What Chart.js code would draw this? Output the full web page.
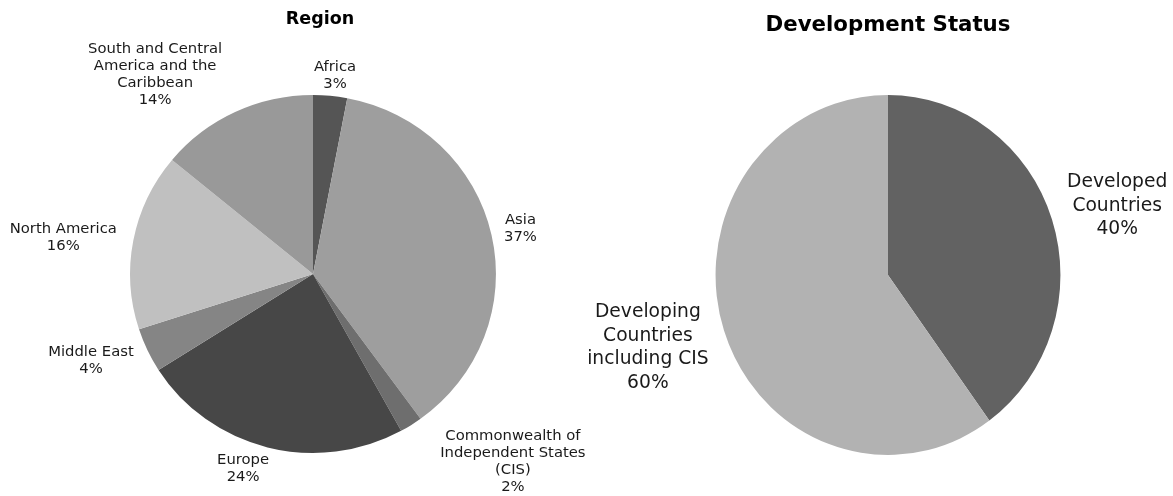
<!DOCTYPE html>
<html>
<head>
<meta charset="utf-8">
<script src="https://cdn.jsdelivr.net/npm/chart.js@4.4.1/dist/chart.umd.min.js"></script>
<style>
  html, body { margin: 0; padding: 0; background: #fff; }
  #wrap { position: relative; width: 1173px; height: 496px; }
  .box { position: absolute; top: 0; height: 496px; }
  #left { left: 0; width: 586px; }
  #right { left: 586px; width: 587px; }
</style>
</head>
<body>
<div id="wrap">
  <div class="box" id="left"><canvas id="region-chart"></canvas></div>
  <div class="box" id="right"><canvas id="status-chart"></canvas></div>
</div>
<script>
// --- data ---
const regionLabels = [
  ['Africa'],
  ['Asia'],
  ['Commonwealth of', 'Independent States', '(CIS)'],
  ['Europe'],
  ['Middle East'],
  ['North America'],
  ['South and Central', 'America and the', 'Caribbean'],
];
const regionShares = [3, 37, 2, 24, 4, 16, 14];
const regionColors = ['#555555', '#9e9e9e', '#6e6e6e', '#474747', '#858585', '#c0c0c0', '#999999'];

const statusLabels = [
  ['Developed', 'Countries'],
  ['Developing', 'Countries', 'including CIS'],
];
const statusShares = [40, 60];
const statusColors = ['#626262', '#b2b2b2'];

// label placement: extra distance past the rim, and angle nudge (deg)
const regionLabelPad = [21, 29, 92, 27, 55, 68, 73];
const regionLabelTweak = [0.8, 0, -13.8, 5, 3.4, -2.4, -12.6];
const statusLabelPad = [69, 81];
const statusLabelTweak = [1.9, 1.8];

const FONT = '"DejaVu Sans", Verdana, sans-serif';

// pie drawn slightly squashed horizontally, labels + title as real text
function piePlugin(cfg) {
  return {
    id: 'pieDecor',
    beforeDatasetsDraw(chart) {
      const a = chart.chartArea;
      const cx = (a.left + a.right) / 2, cy = (a.top + a.bottom) / 2;
      const ctx = chart.ctx;
      ctx.save();
      ctx.translate(cx, cy);
      ctx.scale(cfg.sx, 1);
      ctx.translate(-cx, -cy);
    },
    afterDatasetsDraw(chart) {
      chart.ctx.restore();
    },
    afterDraw(chart) {
      const ctx = chart.ctx;
      const meta = chart.getDatasetMeta(0);
      const data = chart.data.datasets[0].data;
      const total = data.reduce((s, v) => s + v, 0);
      ctx.save();
      ctx.fillStyle = '#1a1a1a';
      ctx.textAlign = 'center';
      ctx.textBaseline = 'middle';
      ctx.font = `${cfg.fontSize}px ${FONT}`;
      meta.data.forEach((arc, i) => {
        const p = arc.getProps(['x', 'y', 'startAngle', 'endAngle', 'outerRadius'], true);
        const mid = (p.startAngle + p.endAngle) / 2 + cfg.tweak[i] * Math.PI / 180;
        const d = p.outerRadius + cfg.pad[i];
        const ax = p.x + Math.cos(mid) * d * cfg.sx;
        const ay = p.y + Math.sin(mid) * d;
        const lines = chart.data.labels[i].concat([Math.round(100 * data[i] / total) + '%']);
        const y0 = ay - (lines.length - 1) * cfg.lineH / 2;
        lines.forEach((t, k) => ctx.fillText(t, ax, y0 + k * cfg.lineH));
      });
      ctx.font = `bold ${cfg.titleSize}px ${FONT}`;
      ctx.fillStyle = '#000';
      ctx.fillText(cfg.title, cfg.titleX, cfg.titleY);
      ctx.restore();
    },
  };
}

function makePie(id, labels, values, colors, padding, cfg) {
  return new Chart(document.getElementById(id), {
    type: 'pie',
    data: {
      labels: labels,
      datasets: [{ data: values, backgroundColor: colors, borderWidth: 0 }],
    },
    options: {
      responsive: true,
      maintainAspectRatio: false,
      animation: false,
      layout: { padding: padding },
      plugins: { legend: { display: false }, tooltip: { enabled: false }, title: { display: false } },
    },
    plugins: [piePlugin(cfg)],
  });
}

makePie('region-chart', regionLabels, regionShares, regionColors,
  { left: 134, right: 94, top: 95, bottom: 43 },
  { sx: 1.022, pad: regionLabelPad, tweak: regionLabelTweak, fontSize: 14.8, lineH: 17,
    title: 'Region', titleSize: 17.5, titleX: 320, titleY: 19 });

makePie('status-chart', statusLabels, statusShares, statusColors,
  { left: 122, right: 105, top: 95, bottom: 41 },
  { sx: 0.958, pad: statusLabelPad, tweak: statusLabelTweak, fontSize: 18.7, lineH: 23.5,
    title: 'Development Status', titleSize: 21.3, titleX: 302, titleY: 25 });
</script>
</body>
</html>
